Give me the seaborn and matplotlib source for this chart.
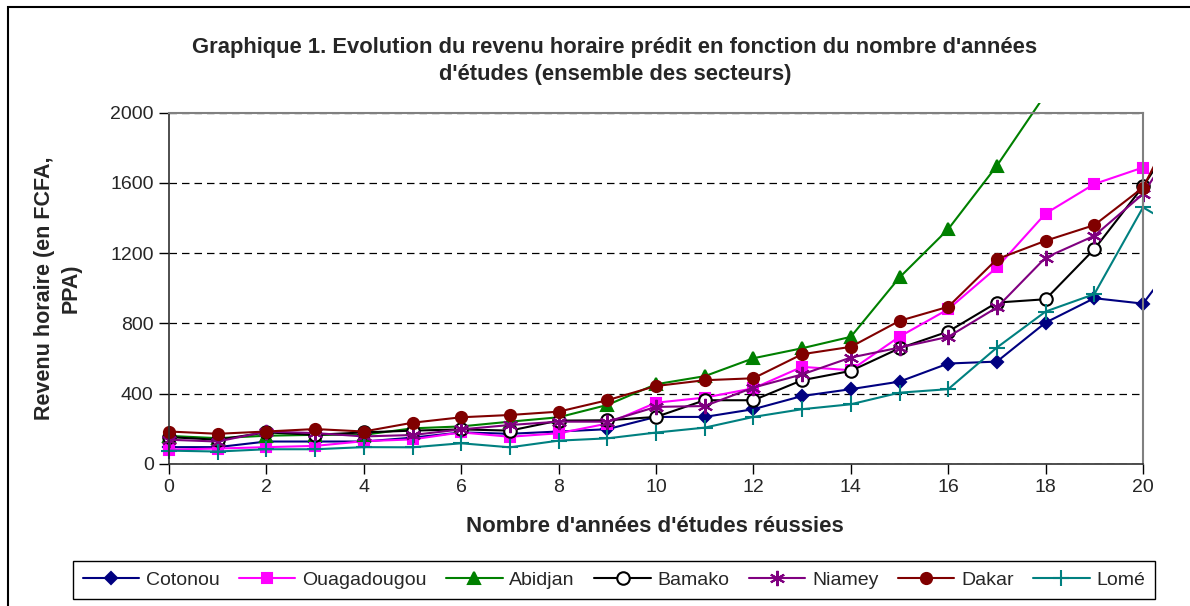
import numpy as np
import pandas as pd
import seaborn as sns
from matplotlib import pyplot as plt
from matplotlib.patches import Rectangle
from matplotlib.transforms import Bbox, TransformedBbox

annees = list(range(0, 22))

cotonou = [96, 96, 128, 128, 128, 150, 180, 172, 185, 198, 268, 268, 312, 387, 426, 469, 572, 583, 805, 944, 913, 1280]
ouagadougou = [82, 88, 96, 103, 130, 140, 180, 155, 175, 230, 349, 378, 431, 553, 534, 725, 881, 1119, 1426, 1594, 1688, np.nan]
abidjan = [160, 147, 161, 166, 166, 203, 214, 241, 266, 336, 454, 500, 602, 659, 724, 1062, 1337, 1698, 2106, 2600, 3200, 3900]
bamako = [153, 138, 180, 166, 180, 190, 197, 190, 247, 249, 268, 363, 363, 477, 530, 659, 754, 919, 938, 1223, 1580, 2000]
niamey = [138, 128, 185, 176, 157, 165, 197, 222, 241, 241, 325, 330, 435, 510, 606, 663, 724, 891, 1175, 1299, 1537, 1970]
dakar = [185, 172, 185, 199, 185, 235, 266, 279, 298, 363, 444, 477, 488, 625, 667, 815, 895, 1166, 1271, 1360, 1574, 2116]
lome = [76, 71, 84, 84, 96, 95, 118, 95, 133, 146, 179, 207, 268, 312, 340, 406, 426, 663, 868, 967, 1461, 1300]

villes = ["Cotonou", "Ouagadougou", "Abidjan", "Bamako", "Niamey", "Dakar", "Lomé"]
valeurs = [cotonou, ouagadougou, abidjan, bamako, niamey, dakar, lome]

# style of each series (colour, marker, size, face colour)
styles = {
    "Cotonou": ("#000080", "D", 6.5, "#000080"),
    "Ouagadougou": ("#FF00FF", "s", 7.5, "#FF00FF"),
    "Abidjan": ("#008000", "^", 8.5, "#008000"),
    "Bamako": ("#000000", "o", 9, "white"),
    "Niamey": ("#800080", (6, 2, 0), 11, "#800080"),
    "Dakar": ("#800000", "o", 8, "#800000"),
    "Lomé": ("#008080", "+", 11, "#008080"),
}

sns.set_style("white")
plt.rcParams['font.family'] = ['Liberation Sans', 'DejaVu Sans']

fig = plt.figure(figsize=(11.9, 6.06), dpi=100)
ax = fig.add_axes([169 / 1190, 1 - 464 / 606, (1143 - 169) / 1190, (464 - 112.7) / 606])

for ville, vals in zip(villes, valeurs):
    col, mk, ms, fc = styles[ville]
    df = pd.DataFrame({"annees": annees, "revenu": vals}).dropna()
    sns.lineplot(data=df, x="annees", y="revenu", ax=ax, color=col, marker=mk,
                 markersize=ms, markerfacecolor=fc, markeredgecolor=col,
                 markeredgewidth=1.5, linewidth=1.5, label=ville)

# Excel lets the lines run a little past the plot area
clip = TransformedBbox(Bbox([[-0.01, -0.03], [1.0105, 1.028]]), ax.transAxes)
for ln in ax.lines:
    ln.set_clip_box(clip)

ax.set_xlim(0, 20)
ax.set_ylim(0, 2000)
ax.set_xticks(range(0, 21, 2))
ax.set_yticks(range(0, 2001, 400))
ax.tick_params(axis='both', labelsize=14, length=7, width=1, color='black',
               direction='out', bottom=True, left=True, pad=4)
ax.set_xlabel("")
ax.set_ylabel("")
ax.yaxis.grid(True, color='black', linestyle=(0, (6, 4)), linewidth=0.9)
ax.xaxis.grid(False)
for s in ['top', 'right']:
    ax.spines[s].set_color('#808080')
    ax.spines[s].set_linewidth(1.5)
for s in ['left', 'bottom']:
    ax.spines[s].set_color('#303030')
    ax.spines[s].set_linewidth(1.2)
ax.get_legend().remove()

fig.text(615 / 1190, 1 - 61 / 606,
         "Graphique 1. Evolution du revenu horaire prédit en fonction du nombre d'années\nd'études (ensemble des secteurs)",
         ha='center', va='center', fontsize=15.8, fontweight='bold', linespacing=1.4)
fig.text(58 / 1190, 1 - 288 / 606, "Revenu horaire (en FCFA,\nPPA)", rotation=90,
         ha='center', va='center', fontsize=15.5, fontweight='bold', linespacing=1.35)
fig.text(655 / 1190, 1 - 527 / 606, "Nombre d'années d'études réussies",
         ha='center', va='center', fontsize=16, fontweight='bold')

handles, labels = ax.get_legend_handles_labels()
leg = fig.legend(handles, labels, loc='center', bbox_to_anchor=(614 / 1190, 1 - 580 / 606),
                 ncol=7, fontsize=14, frameon=True, fancybox=False, edgecolor='black',
                 framealpha=1, handlelength=2.9, handletextpad=0.35, columnspacing=1.0,
                 borderpad=0.5)
leg.get_frame().set_linewidth(1.0)

fig.patches.append(Rectangle((8 / 1190, -0.1), 1.2, 1 - 7 / 606 + 0.1, transform=fig.transFigure,
                             fill=False, edgecolor='black', linewidth=1.5))

fig.savefig("out.png", dpi=100)
